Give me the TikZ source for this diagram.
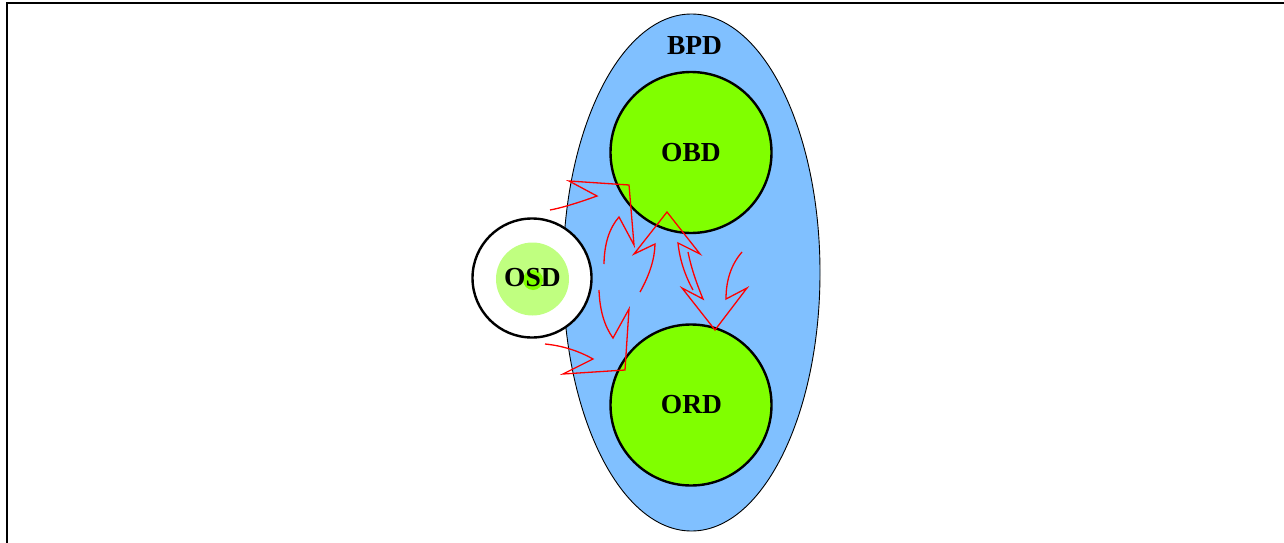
\documentclass[tikz,border=0pt]{standalone}
\usepackage{fontspec}
\setmainfont{Liberation Serif}
\usetikzlibrary{shapes.geometric}
\definecolor{domainblue}{HTML}{80C0FF}
\definecolor{domaingreen}{HTML}{80FF00}
\definecolor{palegreen}{HTML}{C0FF80}
\tikzset{
  frameline/.style={line width=2.2pt},
  domaindisc/.style={circle, draw, line width=2.4pt, fill=domaingreen, inner sep=0pt, minimum size=161pt},
  nametext/.style={font=\fontsize{27.5}{31}\selectfont\bfseries, inner sep=0pt},
  flowarrow/.style={draw=red, line width=1.3pt, line join=miter}
}
\begin{document}
\begin{tikzpicture}[x=1pt,y=-1pt]
  \useasboundingbox (0,0) rectangle (1284,543);
  % outer frame (left and top edges)
  \draw[frameline] (7,545) -- (7,3) -- (1290,3);

  % backbone domain
  \node[ellipse, draw, line width=0.9pt, fill=domainblue, minimum width=257pt, minimum height=517pt, inner sep=0pt] (bpd) at (691.5,272.5) {};
  \node[nametext] (bpdlabel) at (694.5,46) {BPD};

  % inner domains
  \node[domaindisc] (obd) at (691,152.5) {};
  \node[nametext] (obdlabel) at (691,153) {OBD};
  \node[domaindisc] (ord) at (691,405) {};
  \node[nametext] (ordlabel) at (691.5,405) {ORD};

  % outside domain
  \node[circle, draw, line width=2.4pt, fill=white, minimum size=119pt, inner sep=0pt] (osd) at (532,278) {};
  \node[circle, fill=palegreen, minimum size=73pt, inner sep=0pt] (osdcore) at (532.5,279) {};
  \node[circle, fill=domaingreen, minimum size=20pt, inner sep=0pt] (osddot) at (533,280) {};
  \node[nametext] (osdlabel) at (532.5,278) {OSD};

  % flow arrows (open outlines)
  \coordinate (a1) at (550,210);
  \draw[flowarrow] (a1) .. controls (561,208) and (576.7,203.3) .. (597,196) -- (569,181) -- (629,185)
    -- (634,245) -- (619,217) .. controls (609.3,228) and (604.3,243.7) .. (604,264);

  \coordinate (a2) at (599,290);
  \draw[flowarrow] (a2) .. controls (599.7,310) and (604.3,326) .. (613,338) -- (629,309) -- (625,370)
    -- (563,374) -- (593,359) .. controls (578.3,350.7) and (562.3,345.7) .. (545,344);

  \coordinate (a3) at (640,292);
  \draw[flowarrow] (a3) .. controls (649.7,274.7) and (654.7,258.7) .. (655,244) -- (634,254) -- (667,212)
    -- (700,254) -- (678,243) .. controls (679.7,259.3) and (684.7,275) .. (693,290);

  \coordinate (a4) at (688,252);
  \draw[flowarrow] (a4) .. controls (691,267) and (696,282) .. (703,299) -- (682,288) -- (715,330)
    -- (747,288) -- (726,299) .. controls (726,280) and (731.3,264.3) .. (742,252);
\end{tikzpicture}
\end{document}
